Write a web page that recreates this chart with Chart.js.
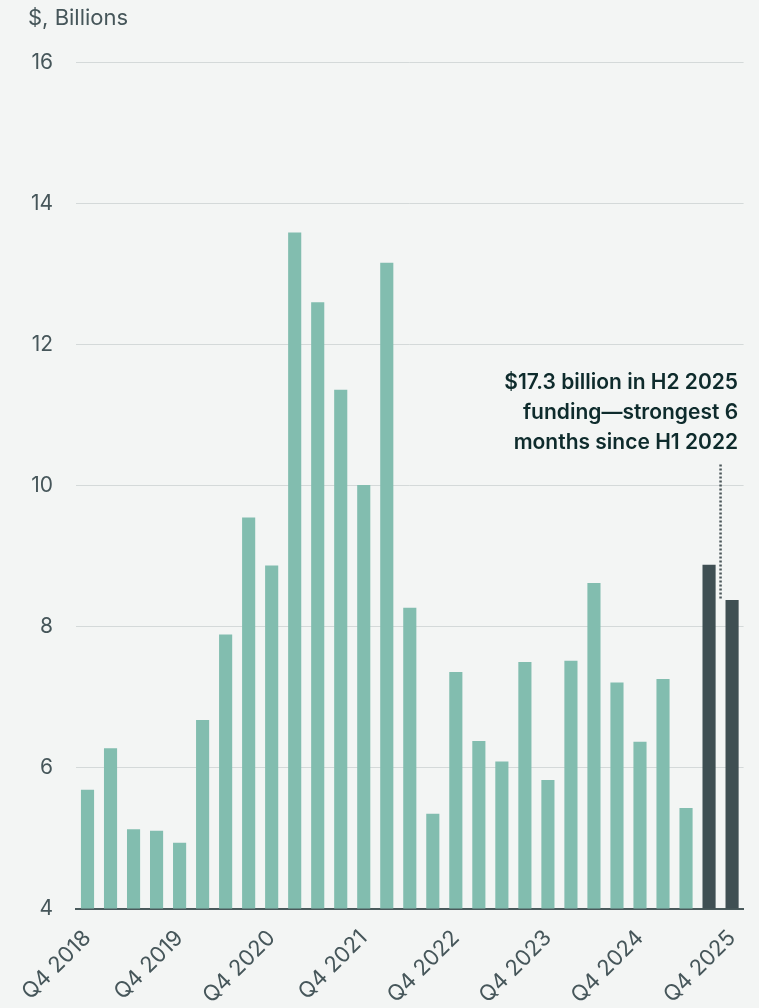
<!DOCTYPE html>
<html>
<head>
<meta charset="utf-8">
<script src="https://cdn.jsdelivr.net/npm/chart.js@4/dist/chart.umd.min.js"></script>
<style>
  html, body { margin: 0; padding: 0; background: #f3f5f4; }
  canvas { display: block; }
</style>
</head>
<body>
<canvas id="funding-chart" width="759" height="1008"></canvas>
<script>
const quarters = [
    'Q4 2018', 'Q1 2019', 'Q2 2019', 'Q3 2019',
    'Q4 2019', 'Q1 2020', 'Q2 2020', 'Q3 2020',
    'Q4 2020', 'Q1 2021', 'Q2 2021', 'Q3 2021',
    'Q4 2021', 'Q1 2022', 'Q2 2022', 'Q3 2022',
    'Q4 2022', 'Q1 2023', 'Q2 2023', 'Q3 2023',
    'Q4 2023', 'Q1 2024', 'Q2 2024', 'Q3 2024',
    'Q4 2024', 'Q1 2025', 'Q2 2025', 'Q3 2025',
    'Q4 2025',
];
const funding = [
    5.69, 6.28, 5.13, 5.11,
    4.94, 6.68, 7.89, 9.55,
    8.87, 13.59, 12.60, 11.36,
    10.01, 13.16, 8.27, 5.35,
    7.36, 6.38, 6.09, 7.50,
    5.83, 7.52, 8.62, 7.21,
    6.37, 7.26, 5.43, 8.88,
    8.38,
];
// H2 2025 quarters are highlighted
const highlighted = ['Q3 2025', 'Q4 2025'];
const yTicks = [4, 6, 8, 10, 12, 14, 16];
const calloutLines = [
    '$17.3 billion in H2 2025',
    'funding\u2014strongest 6',
    'months since H1 2022',
];

const colorBar    = '#82bdaf';
const colorDark   = '#3f4f53';
const colorGrid   = '#d4d9d9';
const colorText   = '#46565a';
const colorNote   = '#0e2b2c';
const fontFamily  = "'Inter', sans-serif";

const callout = {
    id: 'callout',
    afterDatasetsDraw(chart) {
        const { ctx, scales: { x, y } } = chart;
        const a = quarters.indexOf(highlighted[0]);
        const b = quarters.indexOf(highlighted[1]);
        const lineX = (x.getPixelForValue(a) + x.getPixelForValue(b)) / 2;

        ctx.save();
        ctx.strokeStyle = '#4a5659';
        ctx.lineWidth = 2.5;
        ctx.setLineDash([2, 2]);
        ctx.beginPath();
        ctx.moveTo(lineX, y.getPixelForValue(10.3));
        ctx.lineTo(lineX, y.getPixelForValue(funding[b]));
        ctx.stroke();
        ctx.setLineDash([]);

        ctx.fillStyle = colorNote;
        ctx.font = `600 21px ${fontFamily}`;
        ctx.textAlign = 'right';
        ctx.textBaseline = 'middle';
        const textX = x.getPixelForValue(b) + 6;
        const top = y.getPixelForValue(11.46);
        calloutLines.forEach((line, i) => ctx.fillText(line, textX, top + i * 30));
        ctx.restore();
    },
};

new Chart(document.getElementById('funding-chart'), {
    type: 'bar',
    data: {
        labels: quarters,
        datasets: [{
            data: funding,
            backgroundColor: quarters.map(q => highlighted.includes(q) ? colorDark : colorBar),
            barPercentage: 0.57,
            categoryPercentage: 1,
            base: 4,
        }],
    },
    options: {
        responsive: false,
        animation: false,
        layout: { padding: { left: 28, right: 15, top: 0, bottom: 0 } },
        plugins: {
            legend: { display: false },
            tooltip: { enabled: false },
            title: {
                display: true,
                text: '$, Billions',
                align: 'start',
                color: colorText,
                font: { family: fontFamily, size: 22, weight: 'normal' },
                padding: { top: 5, bottom: 31 },
            },
        },
        scales: {
            x: {
                grid: { display: false },
                border: { color: '#4a5a5c', width: 2 },
                afterFit: (scale) => { scale.height = 99; },
                ticks: {
                    autoSkip: false,
                    maxRotation: 45,
                    minRotation: 45,
                    padding: 8,
                    color: colorText,
                    font: { family: fontFamily, size: 22 },
                    callback: (value, i) => i % 4 === 0 ? quarters[i] : '',
                },
            },
            y: {
                min: 4,
                max: 16,
                afterFit: (scale) => { scale.width = 48; },
                afterBuildTicks: (scale) => { scale.ticks = yTicks.map(v => ({ value: v })); },
                grid: { color: colorGrid, lineWidth: 1, drawTicks: false },
                border: { display: false },
                ticks: {
                    padding: 23,
                    color: colorText,
                    font: { family: fontFamily, size: 21 },
                },
            },
        },
    },
    plugins: [callout],
});
</script>
</body>
</html>
